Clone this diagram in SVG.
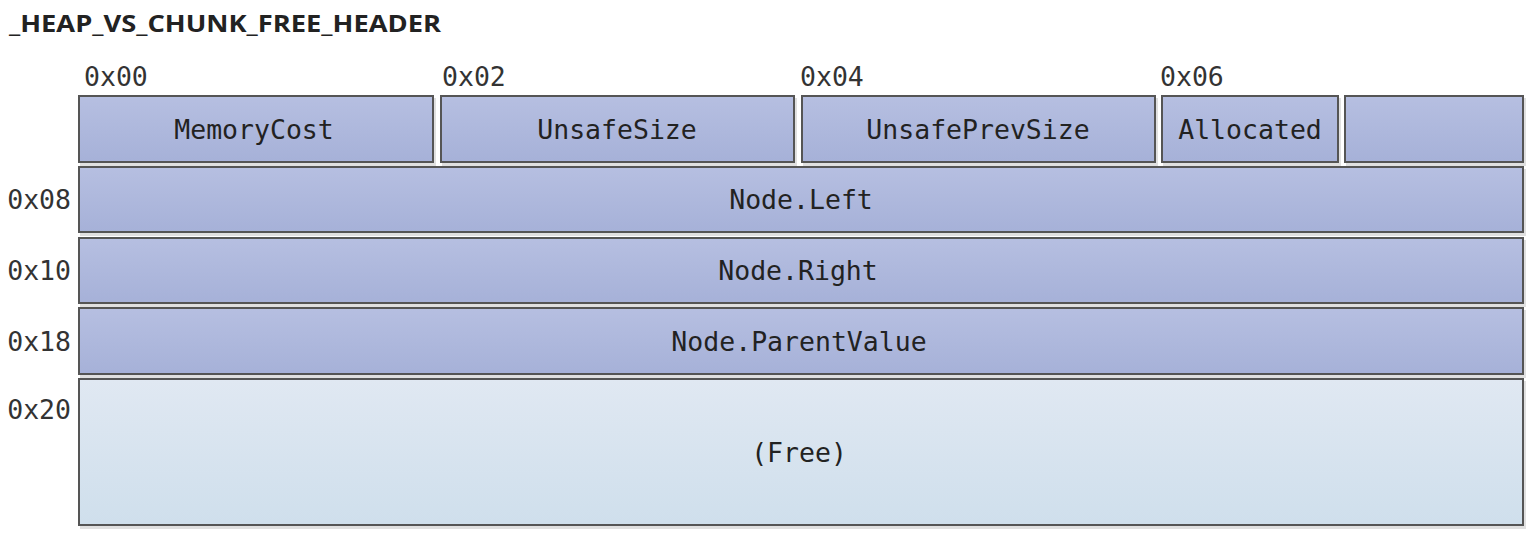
<svg xmlns="http://www.w3.org/2000/svg" width="1534" height="533" viewBox="0 0 1534 533">
<defs>
<linearGradient id="gBlue" x1="0" y1="0" x2="0" y2="1">
<stop offset="0" stop-color="#b6bfe1"/>
<stop offset="1" stop-color="#a6b1d8"/>
</linearGradient>
<linearGradient id="gFree" x1="0" y1="0" x2="0" y2="1">
<stop offset="0" stop-color="#e0e8f2"/>
<stop offset="1" stop-color="#cfdfec"/>
</linearGradient>
<filter id="sh" x="-5%" y="-5%" width="110%" height="120%">
<feOffset in="SourceAlpha" dx="2" dy="3" result="o"/>
<feFlood flood-color="#000" flood-opacity="0.12"/>
<feComposite in2="o" operator="in" result="s"/>
<feMerge><feMergeNode in="s"/><feMergeNode in="SourceGraphic"/></feMerge>
</filter>
<style>
.f{fill:url(#gBlue);stroke:#555;stroke-width:2;filter:url(#sh)}
.fr{fill:url(#gFree);stroke:#555;stroke-width:2;filter:url(#sh)}
.t{font-family:"DejaVu Sans Mono","Liberation Mono",monospace;font-size:26.5px;fill:#222;text-anchor:middle}
.o{font-family:"DejaVu Sans Mono","Liberation Mono",monospace;font-size:26.5px;fill:#333}
.oe{font-family:"DejaVu Sans Mono","Liberation Mono",monospace;font-size:26.5px;fill:#333;text-anchor:end}
.title{font-family:"Open Sans","Liberation Sans",sans-serif;font-weight:bold;font-size:23px;fill:#222}
</style>
</defs>
<rect width="1534" height="533" fill="#fff"/>
<text class="title" x="9" y="32" textLength="432" lengthAdjust="spacingAndGlyphs">_HEAP_VS_CHUNK_FREE_HEADER</text>
<g id="offsets">
<text class="o" x="84" y="86">0x00</text>
<text class="o" x="442" y="86">0x02</text>
<text class="o" x="800" y="86">0x04</text>
<text class="o" x="1160" y="86">0x06</text>
<text class="oe" x="71" y="209">0x08</text>
<text class="oe" x="71" y="280">0x10</text>
<text class="oe" x="71" y="351">0x18</text>
<text class="oe" x="71" y="419">0x20</text>
</g>
<g id="connectors"></g>
<g id="memorycost"><rect class="f" x="79" y="96" width="354" height="66"/><text class="t" x="254" y="139">MemoryCost</text></g>
<g id="unsafesize"><rect class="f" x="441" y="96" width="353" height="66"/><text class="t" x="617" y="139">UnsafeSize</text></g>
<g id="unsafeprevsize"><rect class="f" x="802" y="96" width="353" height="66"/><text class="t" x="978" y="139">UnsafePrevSize</text></g>
<g id="allocated"><rect class="f" x="1162" y="96" width="176" height="66"/><text class="t" x="1250" y="139">Allocated</text></g>
<g id="reserved"><rect class="f" x="1345" y="96" width="178" height="66"/></g>
<g id="nodeleft"><rect class="f" x="79" y="167" width="1444" height="65"/><text class="t" x="801" y="209">Node.Left</text></g>
<g id="noderight"><rect class="f" x="79" y="238" width="1444" height="65"/><text class="t" x="798" y="280">Node.Right</text></g>
<g id="nodeparent"><rect class="f" x="79" y="308" width="1444" height="66"/><text class="t" x="799" y="351">Node.ParentValue</text></g>
<g id="free"><rect class="fr" x="79" y="379" width="1444" height="146"/><text class="t" x="799" y="462">(Free)</text></g>
</svg>
